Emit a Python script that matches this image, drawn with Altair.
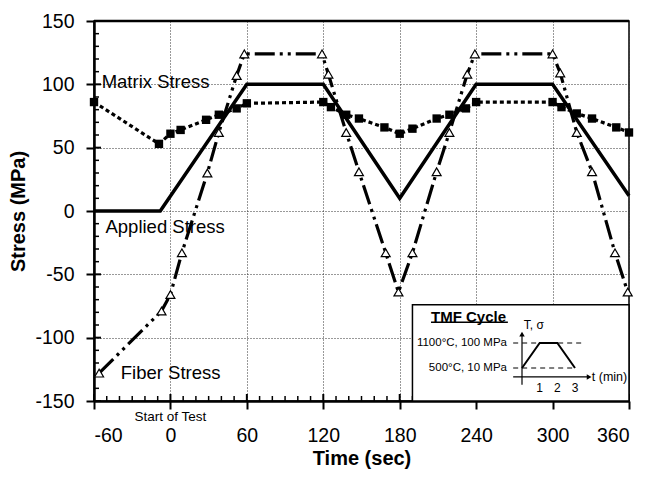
import altair as alt
import pandas as pd

# ---------------- data ----------------
applied_time = [-60, -8, 60, 120, 180, 240, 300, 360]
applied_stress = [0, 0, 100, 100, 10, 100, 100, 12]

matrix_time = [-60, -9, 0, 8, 28, 38, 52, 60, 120, 126, 138, 148, 168, 180,
               190, 209, 219, 232, 240, 300, 307, 319, 331, 350, 360]
matrix_stress = [86, 53, 61, 64, 72, 76, 81, 85, 86, 82, 76, 73, 66, 61,
                 65, 73, 76, 81, 86, 86, 82, 77, 73, 66, 62]

fiber_time = [-56, -7, 0, 9, 29, 38, 52, 58, 119, 124, 138, 148, 169, 179,
              190, 209, 219, 233, 239, 300, 306, 319, 331, 349, 359]
fiber_stress = [-128, -79, -66, -33, 30, 62, 107, 124, 124, 108, 62, 31, -33, -64,
                -33, 31, 62, 108, 124, 124, 109, 62, 31, -33, -64]

x_ticks = [-60, 0, 60, 120, 180, 240, 300, 360]
y_ticks = [-150, -100, -50, 0, 50, 100, 150]
x_minor = [v for v in range(-60, 361, 10) if v not in x_ticks]
y_minor = [v for v in range(-150, 151, 10) if v not in y_ticks]

label_text = ["Matrix Stress", "Applied Stress", "Fiber Stress"]
label_time = [-54, -51, -39]
label_stress = [102, -13, -128]

note_text = ["Start of Test"]
note_time = [0]
note_stress = [-163]

# inset box (main-chart units)
box_t = [190]
box_t2 = [360]
box_s = [-74]
box_s2 = [-150]

# inset schematic (minutes, MPa)
cycle_min = [0, 1, 2, 3]
cycle_stress = [10, 100, 100, 10]
level_stress = [100, 10]
level_start = [-0.5, -0.5]
level_end = [3.4, 3.0]
level_text = ["1100\u00b0C, 100 MPa", "500\u00b0C, 10 MPa"]
inset_tick_min = [1, 2, 3]
inset_tick_text = ["1", "2", "3"]

FONT = "Liberation Sans"
W, H = 535, 380

xs = alt.Scale(domain=[-60, 360], nice=False, zero=False)
ys = alt.Scale(domain=[-150, 150], nice=False, zero=False)

X = alt.X("t:Q", scale=xs, axis=alt.Axis(values=x_ticks, title="Time (sec)",
                                          labelExpr="'' + datum.value",
                                          labelPadding=17, titlePadding=4))
Y = alt.Y("s:Q", scale=ys, axis=alt.Axis(values=y_ticks, title="Stress (MPa)",
                                          labelExpr="'' + datum.value",
                                          labelPadding=12, titlePadding=6))

df_app = pd.DataFrame({"t": applied_time, "s": applied_stress})
df_mat = pd.DataFrame({"t": matrix_time, "s": matrix_stress})
df_fib = pd.DataFrame({"t": fiber_time, "s": fiber_stress})

applied = alt.Chart(df_app).mark_line(color="black", strokeWidth=3.5).encode(x=X, y=Y)
matrix_line = alt.Chart(df_mat).mark_line(color="black", strokeWidth=3.2,
                                          strokeDash=[4, 3]).encode(x=X, y=Y)
matrix_pts = alt.Chart(df_mat).mark_point(shape="square", filled=True, color="black",
                                          size=70, opacity=1).encode(x=X, y=Y)
fiber_line = alt.Chart(df_fib).mark_line(color="black", strokeWidth=3.2,
                                         strokeDash=[20, 5, 3, 5, 3, 5]).encode(x=X, y=Y)
fiber_pts = alt.Chart(df_fib).mark_point(shape="triangle-up", filled=True, fill="white",
                                         stroke="black", strokeWidth=1.2, size=80,
                                         opacity=1).encode(x=X, y=Y)

labels = alt.Chart(pd.DataFrame({"t": label_time, "s": label_stress, "txt": label_text})).mark_text(
    align="left", baseline="middle", font=FONT, fontSize=18.5, color="black").encode(x=X, y=Y, text="txt:N")
note = alt.Chart(pd.DataFrame({"t": note_time, "s": note_stress, "txt": note_text})).mark_text(
    align="center", baseline="middle", font=FONT, fontSize=13.5, color="black").encode(x=X, y=Y, text="txt:N")

x_major_in = alt.Chart(pd.DataFrame({"t": x_ticks})).mark_rule(color="black", strokeWidth=2).encode(
    x=X, y=alt.value(H - 7), y2=alt.value(H))
x_minor_in = alt.Chart(pd.DataFrame({"t": x_minor})).mark_rule(color="black", strokeWidth=1.5).encode(
    x=X, y=alt.value(H - 5), y2=alt.value(H))
y_major_in = alt.Chart(pd.DataFrame({"s": y_ticks})).mark_rule(color="black", strokeWidth=2).encode(
    y=Y, x=alt.value(0), x2=alt.value(7))
y_minor_in = alt.Chart(pd.DataFrame({"s": y_minor})).mark_rule(color="black", strokeWidth=1.5).encode(
    y=Y, x=alt.value(0), x2=alt.value(5))
top_rule = alt.Chart(pd.DataFrame({"s": [150]})).mark_rule(color="black", strokeWidth=2.5).encode(y=Y)

box = alt.Chart(pd.DataFrame({"t": box_t, "t2": box_t2, "s": box_s, "s2": box_s2})).mark_rect(
    fill="white", stroke="black", strokeWidth=1.5).encode(x=X, x2="t2:Q", y=Y, y2="s2:Q")

main = alt.layer(x_minor_in, x_major_in, y_minor_in, y_major_in, top_rule,
                 applied, matrix_line, fiber_line, matrix_pts, fiber_pts,
                 labels, note, box)

# ---------------- inset ----------------
ixs = alt.Scale(domain=[0, 3], range=[428, 481], nice=False, zero=False)
iys = alt.Scale(domain=[10, 100], range=[347, 322], nice=False, zero=False)
IX = alt.X("m:Q", scale=ixs, axis=None)
IY = alt.Y("v:Q", scale=iys, axis=None)

cycle = alt.Chart(pd.DataFrame({"m": cycle_min, "v": cycle_stress})).mark_line(
    color="black", strokeWidth=2).encode(x=IX, y=IY)
levels = alt.Chart(pd.DataFrame({"m": level_start, "m2": level_end, "v": level_stress})).mark_rule(
    color="black", strokeWidth=1, strokeDash=[5, 4]).encode(x=IX, x2="m2:Q", y=IY)
level_labels = alt.Chart(pd.DataFrame({"m": [-0.85, -0.85], "v": level_stress, "txt": level_text})).mark_text(
    align="right", baseline="middle", font=FONT, fontSize=11.5, color="black").encode(x=IX, y=IY, text="txt:N")
h_axis = alt.Chart(pd.DataFrame({"m": [-0.5], "m2": [3.75], "v": [-22]})).mark_rule(
    color="black", strokeWidth=1.2).encode(x=IX, x2="m2:Q", y=IY)
v_axis = alt.Chart(pd.DataFrame({"m": [0], "v": [-50], "v2": [130]})).mark_rule(
    color="black", strokeWidth=1.2).encode(x=IX, y=IY, y2="v2:Q")
arrow_r = alt.Chart(pd.DataFrame({"m": [3.8], "v": [-22]})).mark_point(
    shape="triangle-right", filled=True, color="black", size=30, opacity=1).encode(x=IX, y=IY)
arrow_u = alt.Chart(pd.DataFrame({"m": [0], "v": [132]})).mark_point(
    shape="triangle-up", filled=True, color="black", size=30, opacity=1).encode(x=IX, y=IY)
i_ticks = alt.Chart(pd.DataFrame({"m": inset_tick_min, "v": [-62] * 3, "txt": inset_tick_text})).mark_text(
    align="center", baseline="middle", font=FONT, fontSize=12, color="black").encode(x=IX, y=IY, text="txt:N")
t_label = alt.Chart(pd.DataFrame({"m": [3.95], "v": [-22], "txt": ["t (min)"]})).mark_text(
    align="left", baseline="middle", font=FONT, fontSize=12.5, color="black").encode(x=IX, y=IY, text="txt:N")
ts_label = alt.Chart(pd.DataFrame({"m": [0.1], "v": [165], "txt": ["T, \u03c3"]})).mark_text(
    align="left", baseline="middle", font=FONT, fontSize=12, color="black").encode(x=IX, y=IY, text="txt:N")
title_in = alt.Chart(pd.DataFrame({"m": [-5.15], "v": [194], "txt": ["TMF Cycle"]})).mark_text(
    align="left", baseline="middle", font=FONT, fontSize=15, fontWeight="bold", color="black").encode(
    x=IX, y=IY, text="txt:N")
underline = alt.Chart(pd.DataFrame({"m": [-5.15], "m2": [-0.8], "v": [175]})).mark_rule(
    color="black", strokeWidth=1.5).encode(x=IX, x2="m2:Q", y=IY)

inset = alt.layer(levels, cycle, h_axis, v_axis, arrow_r, arrow_u, level_labels,
                  i_ticks, t_label, ts_label, title_in, underline)

chart = alt.layer(main, inset).resolve_scale(x="independent", y="independent").properties(
    width=W, height=H,
    padding={"left": 94, "top": 21, "right": 24, "bottom": 76},
    autosize=alt.AutoSizeParams(type="none"),
    background="white",
).configure_view(stroke="black", strokeWidth=1.5).configure_axis(
    labelFont=FONT, labelFontSize=19.5, labelColor="black",
    titleFont=FONT, titleFontSize=20, titleFontWeight="bold", titleColor="black",
    domainColor="black", domainWidth=2.5, tickColor="black", tickWidth=2, tickSize=8,
    gridColor="#333333", gridDash=[1, 2], gridWidth=1, gridOpacity=1,
)

chart.save("out.html", embed_options={"renderer": "svg", "actions": False})
